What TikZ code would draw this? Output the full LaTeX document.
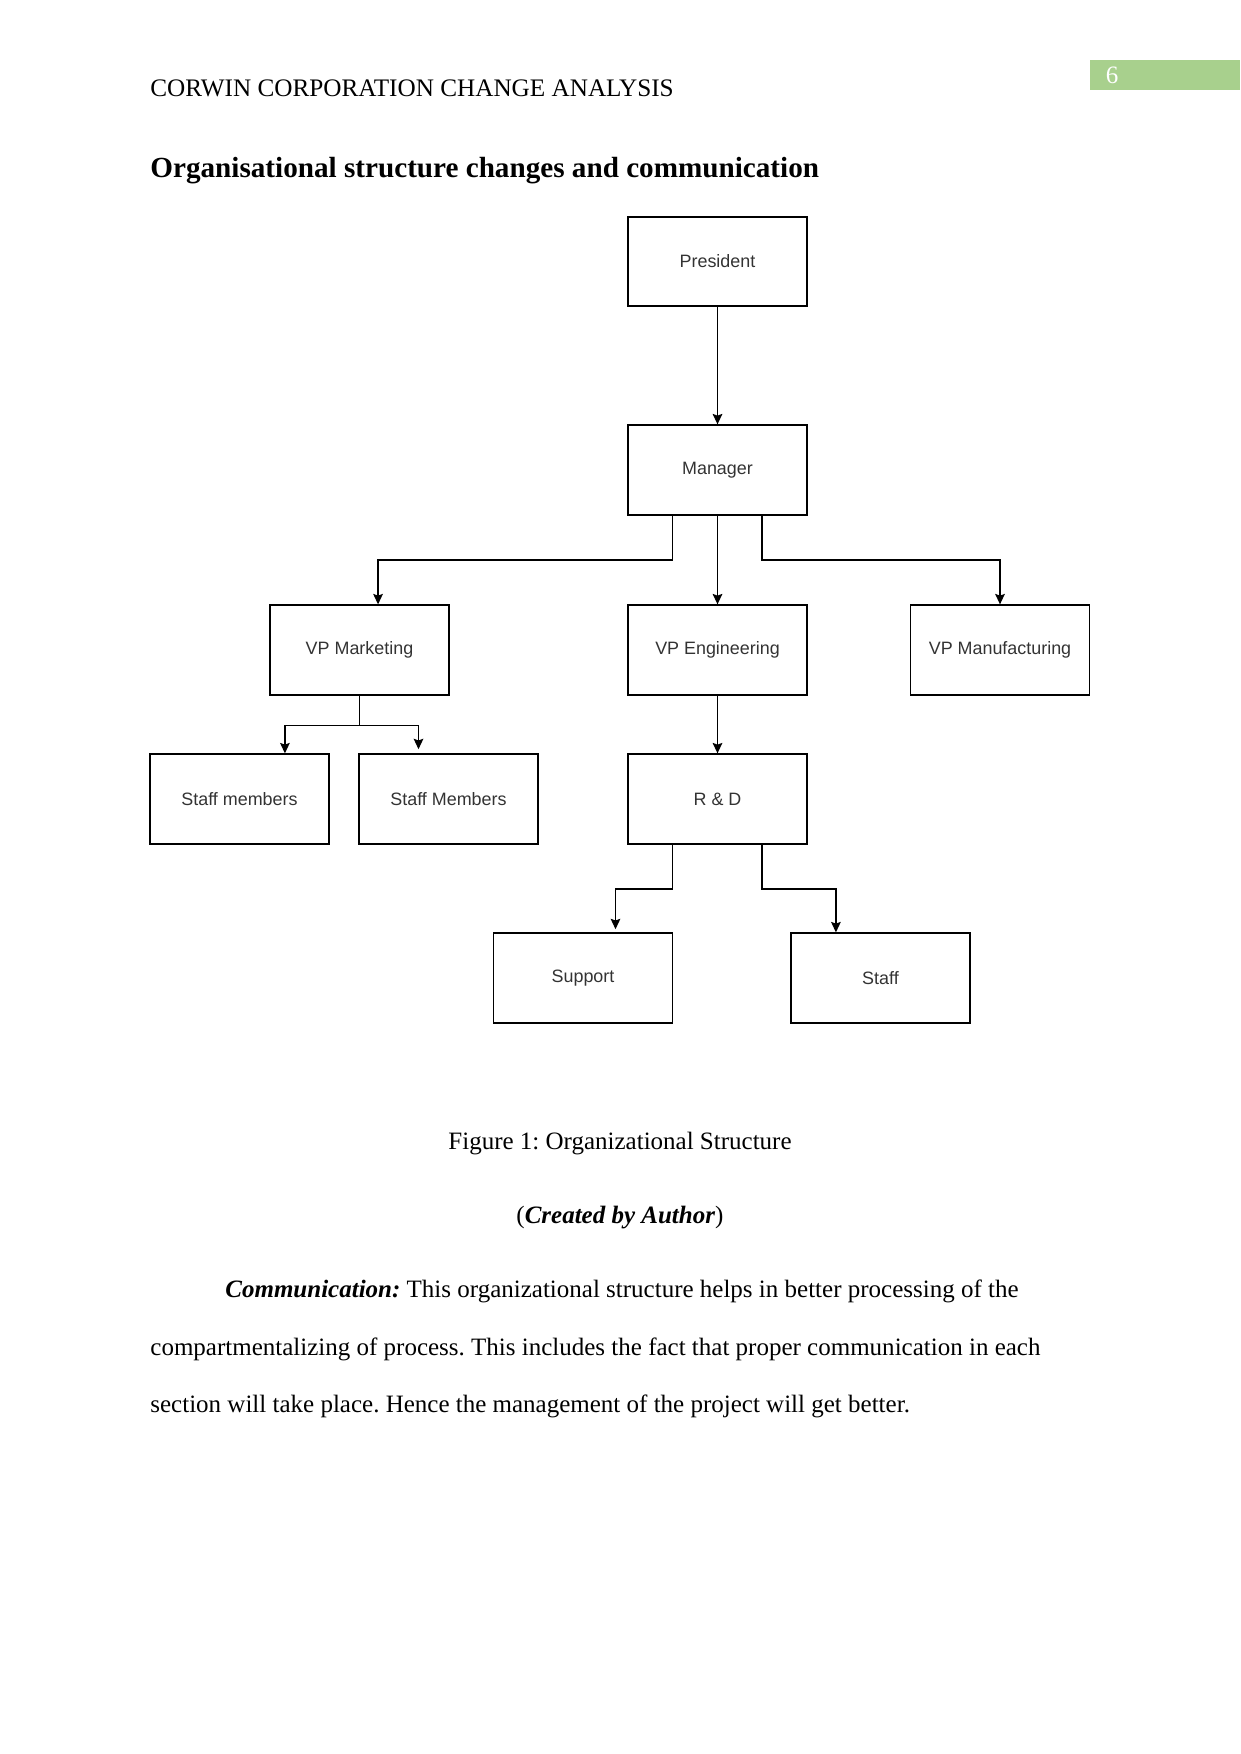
\documentclass[tikz,border=0pt]{standalone}
\usepackage{fontspec}
\setmainfont{Liberation Serif}
\newfontfamily\boxfont{Liberation Sans}
\usetikzlibrary{arrows.meta}
\definecolor{hdrgreen}{HTML}{A8D08D}
\definecolor{boxtext}{HTML}{333333}
\frenchspacing
\tikzset{
  orgbox/.style={draw=black, line width=0.8pt, minimum width=86pt, minimum height=43pt, inner sep=0pt,
                 font=\boxfont\fontsize{8.6}{10}\selectfont, text=boxtext},
  arr/.style={draw=black, line width=0.8pt, -{Stealth[length=5pt,width=4.6pt,inset=0.8pt]}},
  txt/.style={inner sep=0pt, font=\fontsize{12}{14}\selectfont},
}
\begin{document}
\begin{tikzpicture}[x=0.48pt,y=-0.48pt]
\useasboundingbox (0,0) rectangle (1241,1754);
% header
\node[fill=hdrgreen, minimum width=72pt, minimum height=14pt, inner sep=0pt, anchor=north west] (pgbox) at (1090,60) {};
\node[txt, text=white, anchor=base] (pgnum) at (1112,83) {6};
\node[txt, anchor=base west, font=\fontsize{12.1}{14}\selectfont] (hdr) at (150,96) {CORWIN CORPORATION CHANGE ANALYSIS};
\node[txt, anchor=base west, font=\fontsize{14}{16}\selectfont\bfseries] (title) at (150,177) {Organisational structure changes and communication};
% boxes
\node[orgbox] (pres) at (717.5,261.5) {President};
\node[orgbox] (mgr)  at (717.5,470) {Manager};
\node[orgbox] (vpmk) at (359.5,650) {VP Marketing};
\node[orgbox] (vpen) at (717.5,650) {VP Engineering};
\node[orgbox] (vpmf) at (1000,650) {VP Manufacturing};
\node[orgbox] (sm1)  at (239.5,799) {Staff members};
\node[orgbox] (sm2)  at (448.5,799) {Staff Members};
\node[orgbox] (rd)   at (717.5,799) {R \& D};
\node[orgbox] (sup)  at (583,978) {Support};
\node[orgbox] (stf)  at (880.5,978) {Staff};
% connectors
\draw[arr] (pres) -- (mgr);
\draw[arr] ([xshift=-21.6pt]mgr.south) -- ++(0,44.5) -| ([xshift=8.9pt]vpmk.north);
\draw[arr] (mgr) -- (vpen);
\draw[arr] ([xshift=21.4pt]mgr.south) -- ++(0,44.5) -| (vpmf.north);
\draw[arr] (vpmk.south) -- ++(0,30) -| ([xshift=21.8pt]sm1.north);
\draw[arr] (vpmk.south) -- ++(0,30) -| ([xshift=-14.4pt,yshift=2pt]sm2.north);
\draw[arr] (vpen) -- (rd);
\draw[arr] ([xshift=-21.6pt]rd.south) -- ++(0,44.5) -| ([xshift=15.6pt,yshift=1.5pt]sup.north);
\draw[arr] ([xshift=21.4pt]rd.south) -- ++(0,44.5) -| ([xshift=-21.4pt]stf.north);
% captions
\node[txt, anchor=base] (cap) at (620,1149) {Figure 1: Organizational Structure};
\node[txt, anchor=base] (cred) at (620,1223) {(\textbf{\textit{Created by Author}})};
% paragraph
\node[txt, anchor=base west] (p1) at (225,1297) {\textbf{\textit{Communication:}} This organizational structure helps in better processing of the};
\node[txt, anchor=base west] (p2) at (150,1355) {compartmentalizing of process. This includes the fact that proper communication in each};
\node[txt, anchor=base west] (p3) at (150,1412) {section will take place. Hence the management of the project will get better.};
\end{tikzpicture}
\end{document}
